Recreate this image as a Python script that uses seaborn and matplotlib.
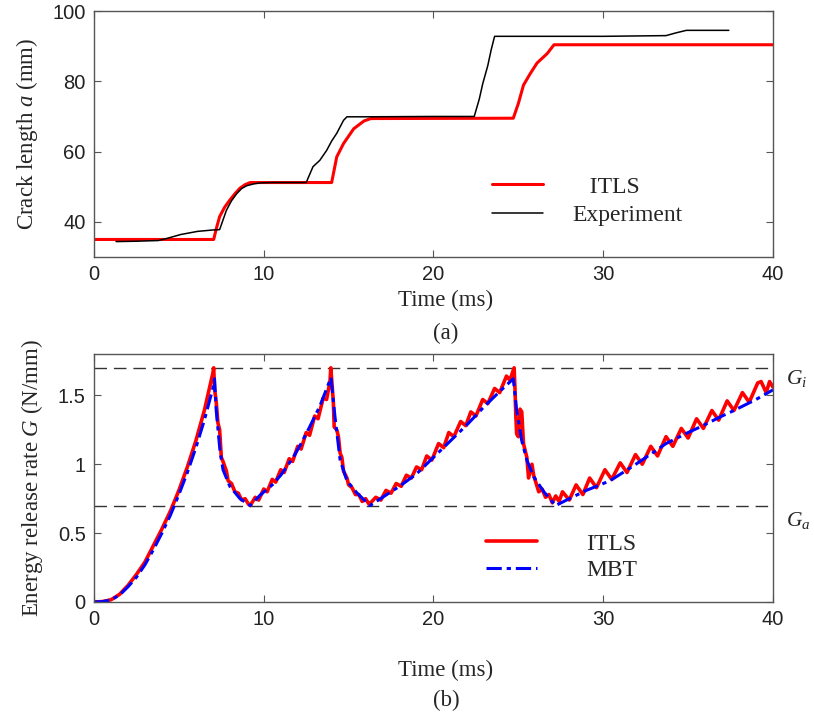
import matplotlib
matplotlib.use("Agg")
import matplotlib.pyplot as plt
import seaborn as sns

# =====================================================
# Data
# =====================================================

# (a) crack length
itls_t = [0, 7.05, 7.2, 7.4, 7.7, 8.0, 8.3, 8.6, 8.9, 9.2,
          14.0, 14.3, 14.7, 15.3, 15.9, 16.3,
          24.7, 25.0, 25.3, 25.7, 26.1, 26.7, 27.1, 40]
itls_a = [35, 35, 38.0, 41.5, 44.2, 46.2, 48.0, 49.6, 50.6, 51.2,
          51.2, 58.5, 62.3, 66.5, 68.7, 69.4,
          69.5, 73.7, 78.9, 82.2, 85.2, 87.9, 90.4, 90.4]

exp_t = [1.3, 2.5, 3.8, 4.3, 5.1, 6.1, 7.0, 7.4, 7.8, 8.1, 8.4, 8.7, 9.0, 9.4, 9.8, 10.5,
         12.5, 12.9, 13.3, 13.7, 14.0, 14.3, 14.7, 14.9, 16.0, 20.0,
         22.4, 22.7, 22.9, 23.2, 23.4, 23.6, 25.0, 30.0, 33.7, 34.3, 34.9, 37.4]
exp_a = [34.4, 34.5, 34.7, 35.3, 36.4, 37.3, 37.7, 37.8, 43.3, 46.0, 48.0, 49.5, 50.3, 50.8, 51.1, 51.2,
         51.2, 55.7, 57.5, 60.3, 63.0, 65.2, 68.9, 69.9, 69.9, 70.0,
         70.0, 75.0, 79.3, 84.5, 89.0, 92.8, 92.8, 92.8, 93.0, 93.8, 94.5, 94.5]

# (b) energy release rate
mbt_t = [0, 0.5, 1.0, 1.5, 2.0, 2.5, 3.0, 3.5, 4.0, 4.5, 5.0, 5.5, 6.0, 6.5, 7.0, 7.1,
         7.2, 7.42, 7.6, 8.0, 8.6, 9.2,
         9.78, 10.5, 11.0, 11.74, 12.2, 12.7, 13.3, 13.9, 13.96,
         14.2, 14.5, 14.9, 15.5, 16.26,
         17.0, 18.0, 19.0, 20.0, 21.0, 22.0, 23.0, 24.0, 24.7,
         24.9, 25.2, 25.5, 25.9, 26.5, 27.2,
         28.0, 29.0, 29.8, 30.4, 31.8, 33.0, 33.7, 35.0, 35.7, 37.0, 37.7, 39.0, 40.0]
mbt_g = [0, 0.003, 0.015, 0.05, 0.11, 0.18, 0.27, 0.38, 0.50, 0.63, 0.78, 0.94, 1.12, 1.32, 1.55, 1.62,
         1.39, 1.10, 0.96, 0.84, 0.75, 0.70,
         0.775, 0.85, 0.92, 1.05, 1.15, 1.27, 1.42, 1.61, 1.63,
         1.34, 1.03, 0.88, 0.79, 0.70,
         0.76, 0.84, 0.93, 1.05, 1.17, 1.29, 1.42, 1.54, 1.62,
         1.39, 1.17, 1.03, 0.91, 0.80, 0.70,
         0.75, 0.81, 0.85, 0.88, 0.99, 1.09, 1.15, 1.23, 1.27, 1.35, 1.39, 1.47, 1.54]

itls_gt = [0, 0.5, 1.0, 1.5, 2.0, 2.5, 3.0, 3.5, 4.0, 4.5, 5.0, 5.5, 6.0, 6.5, 7.0, 7.05,
           7.1, 7.2, 7.3, 7.4, 7.5, 7.6, 7.8, 7.9, 8.1, 8.3, 8.5, 8.7, 8.9, 9.1, 9.2,
           9.5, 9.7, 10.0, 10.2, 10.5, 10.7, 11.0, 11.2, 11.5, 11.7, 12.0, 12.2, 12.5, 12.7,
           13.0, 13.2, 13.5, 13.7, 13.9, 13.95,
           14.0, 14.1, 14.15, 14.3, 14.4, 14.5, 14.6, 14.7, 14.9, 15.0, 15.2, 15.4, 15.6, 15.8, 16.0, 16.2, 16.3,
           16.6, 16.9, 17.2, 17.5, 17.8, 18.1, 18.4, 18.7, 19.0, 19.3, 19.6, 19.9, 20.3, 20.6,
           20.9, 21.2, 21.6, 21.9, 22.2, 22.5, 22.9, 23.2, 23.6, 23.9, 24.3, 24.5, 24.75,
           24.8, 24.85, 24.9, 25.0, 25.1, 25.2, 25.3, 25.5, 25.6, 25.7, 25.8, 25.9, 26.0, 26.2,
           26.4, 26.6, 26.8, 27.0, 27.2, 27.4,
           27.6, 28.0, 28.4, 28.8, 29.2, 29.6, 30.1, 30.5, 31.0, 31.4, 31.9, 32.3, 32.8, 33.2,
           33.7, 34.1, 34.6, 35.0, 35.5, 35.9, 36.4, 36.8, 37.3, 37.7, 38.2, 38.6, 39.1, 39.3,
           39.6, 39.8, 40.0]
itls_g = [0, 0.003, 0.016, 0.055, 0.12, 0.20, 0.29, 0.41, 0.53, 0.66, 0.81, 0.98, 1.17, 1.39, 1.66, 1.70,
          1.55, 1.45, 1.30, 1.25, 1.05, 1.02, 0.95, 0.88, 0.86, 0.80, 0.79, 0.74, 0.75, 0.71, 0.70,
          0.76, 0.74, 0.82, 0.80, 0.89, 0.87, 0.96, 0.94, 1.04, 1.02, 1.13, 1.11, 1.23, 1.21,
          1.35, 1.33, 1.48, 1.47, 1.60, 1.70,
          1.62, 1.45, 1.27, 1.25, 1.20, 1.08, 1.05, 0.95, 0.90, 0.85, 0.83, 0.78, 0.78, 0.73, 0.75, 0.71, 0.72,
          0.76, 0.74, 0.81, 0.79, 0.86, 0.84, 0.92, 0.90, 0.98, 0.96, 1.06, 1.03, 1.15, 1.12,
          1.23, 1.20, 1.31, 1.28, 1.38, 1.35, 1.47, 1.44, 1.55, 1.52, 1.64, 1.61, 1.70,
          1.55, 1.35, 1.22, 1.20, 1.40, 1.38, 1.15, 1.05, 0.90, 0.95, 1.00, 0.92, 0.88, 0.80,
          0.82, 0.76, 0.78, 0.72, 0.77, 0.73,
          0.80, 0.74, 0.85, 0.78, 0.90, 0.83, 0.96, 0.89, 1.01, 0.94, 1.07, 1.00, 1.13, 1.06,
          1.20, 1.13, 1.26, 1.19, 1.33, 1.26, 1.39, 1.32, 1.46, 1.39, 1.52, 1.45, 1.59, 1.60,
          1.52, 1.60, 1.56]

G_i = 1.7
G_a = 0.7

# =====================================================
# Style
# =====================================================

sns.set_theme(style="white")
plt.rcParams["font.family"] = ["Liberation Serif", "DejaVu Serif"]
plt.rcParams["mathtext.fontset"] = "custom"
plt.rcParams["mathtext.rm"] = "Liberation Serif"
plt.rcParams["mathtext.it"] = "Liberation Serif:italic"
plt.rcParams["axes.edgecolor"] = "#555555"
plt.rcParams["axes.linewidth"] = 1.0

label_size = 16.5
tick_size = 14.5

fig = plt.figure(figsize=(8.14, 7.2), dpi=100)
ax1 = fig.add_axes([0.1155, 0.643, 0.8341, 0.3417])
ax2 = fig.add_axes([0.1155, 0.1639, 0.8341, 0.3444])


def style_axes(ax):
    ax.tick_params(direction="in", length=5, width=0.8, color="#555555",
                   top=True, right=True, bottom=True, left=True,
                   labelsize=tick_size, labelcolor="#222222",
                   labelfontfamily="Liberation Sans", pad=6)
    for s in ax.spines.values():
        s.set_visible(True)


# =====================================================
# (a) Crack length
# =====================================================

sns.lineplot(x=itls_t, y=itls_a, ax=ax1, color="#ff0000", linewidth=2.2,
             estimator=None, sort=False, label="   ITLS")
sns.lineplot(x=exp_t, y=exp_a, ax=ax1, color="black", linewidth=1.1,
             estimator=None, sort=False, label="Experiment")

ax1.set_xlim(0, 40)
ax1.set_ylim(30, 100)
ax1.set_xticks([0, 10, 20, 30, 40])
ax1.set_yticks([40, 60, 80, 100])
style_axes(ax1)
ax1.set_xlabel("")
ax1.set_ylabel("Crack length $a$ (mm)", fontsize=label_size, labelpad=9)

leg1 = ax1.legend(loc="upper left", bbox_to_anchor=(492 / 814, 1 - 176 / 720),
                  bbox_transform=fig.transFigure, frameon=False, fontsize=17,
                  handlelength=2.15, handletextpad=1.25, borderpad=0,
                  borderaxespad=0, labelspacing=0.3)

fig.text(446 / 814, 1 - 300 / 720, "Time (ms)", ha="center", va="center", fontsize=label_size)
fig.text(446 / 814, 1 - 333 / 720, "(a)", ha="center", va="center", fontsize=label_size)

# =====================================================
# (b) Energy release rate
# =====================================================

ax2.axhline(G_i, color="#333333", linewidth=1.0, dashes=(9, 5))
ax2.axhline(G_a, color="#333333", linewidth=1.0, dashes=(9, 5))

sns.lineplot(x=itls_gt, y=itls_g, ax=ax2, color="#ff0000", linewidth=2.6,
             estimator=None, sort=False, label="ITLS")
sns.lineplot(x=mbt_t, y=mbt_g, ax=ax2, color="#0000ff", linewidth=2.2,
             estimator=None, sort=False, label="MBT", dashes=False)
ax2.lines[-1].set_dashes((5, 1.6, 1.4, 1.6))

ax2.set_xlim(0, 40)
ax2.set_ylim(0, 1.8)
ax2.set_xticks([0, 10, 20, 30, 40])
ax2.set_yticks([0, 0.5, 1, 1.5])
ax2.set_yticklabels(["0", "0.5", "1", "1.5"])
style_axes(ax2)
ax2.set_xlabel("")
ax2.set_ylabel("Energy release rate $G$ (N/mm)", fontsize=label_size, labelpad=9)

ax2.text(40.75, 1.62, "$G_i$", fontsize=15.5, va="center", ha="left", clip_on=False)
ax2.text(40.75, 0.59, "$G_a$", fontsize=15.5, va="center", ha="left", clip_on=False)

leg2 = ax2.legend(loc="upper left", bbox_to_anchor=(486 / 814, 1 - 533 / 720),
                  bbox_transform=fig.transFigure, frameon=False, fontsize=17,
                  handlelength=2.15, handletextpad=2.1, borderpad=0,
                  borderaxespad=0, labelspacing=0.2)
leg2.get_lines()[1].set_dashes((5, 1.6, 1.4, 1.6))

fig.text(446 / 814, 1 - 670 / 720, "Time (ms)", ha="center", va="center", fontsize=label_size)
fig.text(446 / 814, 1 - 700 / 720, "(b)", ha="center", va="center", fontsize=label_size)

fig.savefig("out.png", dpi=100)
